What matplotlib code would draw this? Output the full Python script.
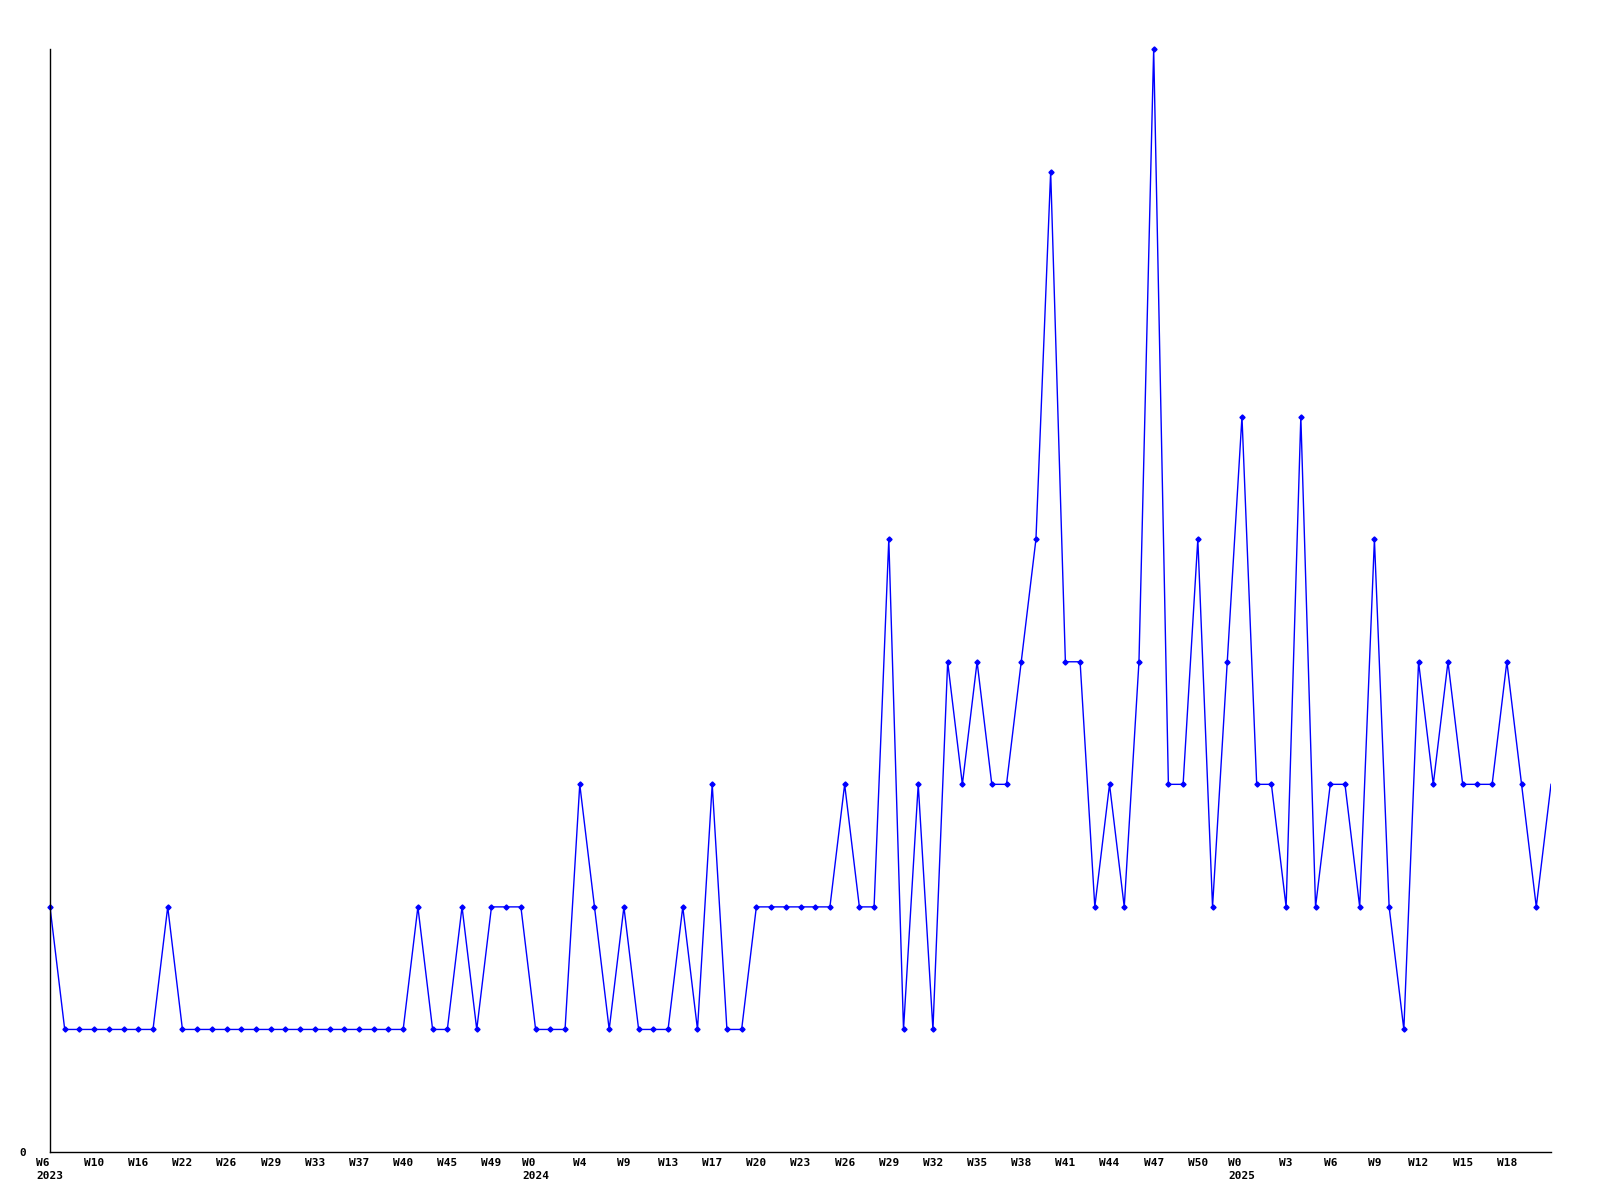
import matplotlib
matplotlib.use('Agg')
import matplotlib.pyplot as plt
import numpy as np

# weekly counts, one point per reported week
counts = [2, 1, 1, 1, 1, 1, 1, 1, 2,
          1, 1, 1, 1, 1, 1, 1, 1, 1, 1, 1, 1, 1, 1, 1, 1,
          2, 1, 1, 2, 1, 2, 2, 2, 1, 1, 1, 3, 2, 1, 2, 1, 1, 1, 2, 1, 3, 1, 1,
          2, 2, 2, 2, 2, 2, 3, 2, 2, 5, 1, 3, 1, 4, 3, 4, 3, 3, 4, 5, 8, 4, 4,
          2, 3, 2, 4, 9, 3, 3, 5, 2, 4, 6, 3, 3, 2, 6, 2, 3, 3, 2, 5, 2, 1, 4,
          3, 4, 3, 3, 3, 4, 3, 2, 3]

week_labels = ["W6\n2023", "W10", "W16", "W22", "W26", "W29", "W33", "W37", "W40",
               "W45", "W49", "W0\n2024", "W4", "W9", "W13", "W17", "W20", "W23",
               "W26", "W29", "W32", "W35", "W38", "W41", "W44", "W47", "W50",
               "W0\n2025", "W3", "W6", "W9", "W12", "W15", "W18"]
label_every = 3

x = np.arange(len(counts))

fig = plt.figure(figsize=(16, 12), dpi=100)
ax = fig.add_axes([50 / 1600, 48 / 1200, 1501 / 1600, 1103 / 1200])

ax.plot(x, counts, color='#0000ff', linewidth=1.0)
ax.plot(x[:-1], counts[:-1], linestyle='none', marker='D', markersize=2.6,
        color='#0000ff', clip_on=False)

ax.set_xlim(0, len(counts) - 1)
ax.set_ylim(0, max(counts))

ax.set_xticks(x[::label_every][:len(week_labels)])
ax.set_xticklabels(week_labels, fontfamily='DejaVu Sans Mono', fontweight='bold',
                   fontsize=8, linespacing=1.45, ha='center', multialignment='left')
ax.set_yticks([0])
ax.set_yticklabels(['0'], fontfamily='DejaVu Sans Mono', fontweight='bold', fontsize=8)
ax.tick_params(axis='x', length=0, pad=4)
ax.tick_params(axis='y', length=0, pad=17)

for side in ['top', 'right']:
    ax.spines[side].set_visible(False)
for side in ['left', 'bottom']:
    ax.spines[side].set_linewidth(1.0)
    ax.spines[side].set_color('black')

plt.savefig('out.png', dpi=100)
plt.close()
